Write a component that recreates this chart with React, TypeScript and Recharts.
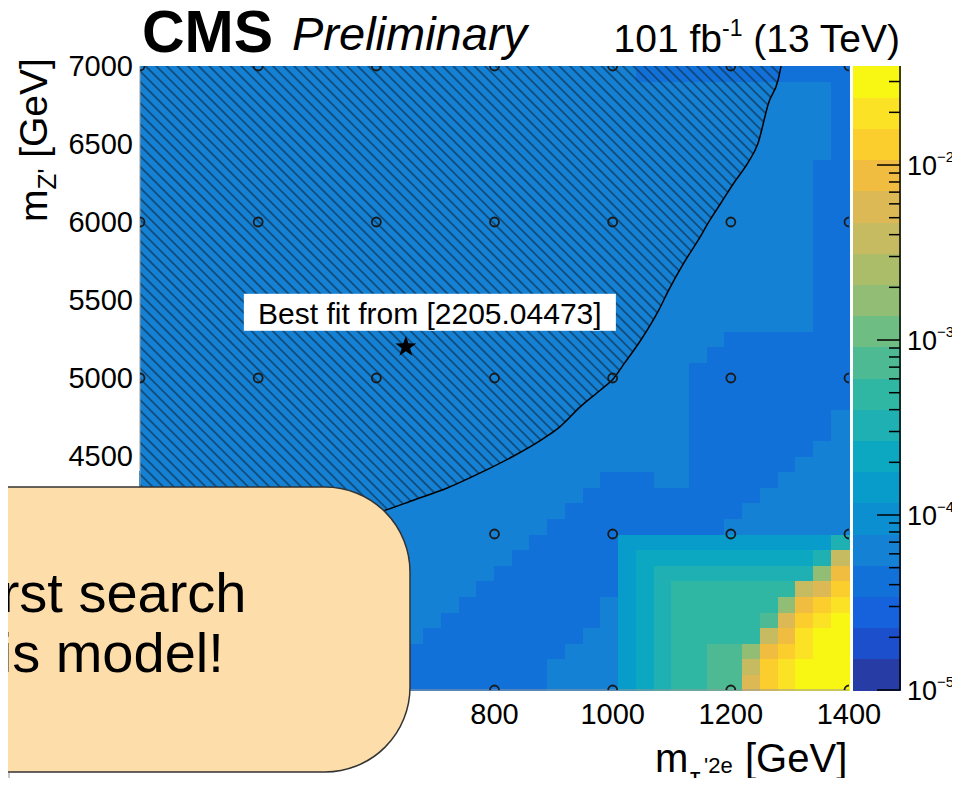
import React from "react";
import { ComposedChart, Area, Scatter, XAxis, YAxis, ReferenceArea } from "recharts";

const FONT = "'Liberation Sans', Arial, Helvetica, sans-serif";

// colour levels of the z axis (20 contours, lowest first)
const zColors = [
  "#283ca5", "#1c4fcb", "#1562dc", "#1271d9", "#1481d4",
  "#0b8fd0", "#089ccb", "#0ca8c2", "#1eb0b2", "#30b7a3",
  "#4dba93", "#6ebd82", "#91be74", "#acbd6a", "#c6bb60",
  "#ddb955", "#f0bd40", "#fcce2d", "#fbe224", "#f8f613",
];
const zMin = 1e-5;
const zMax = 0.0368;
const zMajorTicks = [1e-5, 1e-4, 1e-3, 1e-2];
const zTicks = [
  1e-5, 2e-5, 3e-5, 4e-5, 5e-5, 6e-5, 7e-5, 8e-5, 9e-5,
  1e-4, 2e-4, 3e-4, 4e-4, 5e-4, 6e-4, 7e-4, 8e-4, 9e-4,
  1e-3, 2e-3, 3e-3, 4e-3, 5e-3, 6e-3, 7e-3, 8e-3, 9e-3,
  1e-2, 2e-2, 3e-2,
];

const tauTicks = [200, 400, 600, 800, 1000, 1200, 1400];
const zpTicks = [3000, 3500, 4000, 4500, 5000, 5500, 6000, 6500, 7000];

// histogram binning: 30 GeV in m_tau', 100 GeV in m_Z'
const tauBinStart = 200;
const tauBinWidth = 30;
const zpBinStart = 3000;
const zpBinWidth = 100;

// one string per m_Z' row (lowest row first), one char per m_tau' bin = colour level
const heatRows = [
  "4444444444 4443333333 3334444678 99aafhijjj",
  "4444444444 4444333333 3334444678 99aaehijjj",
  "4444444444 4444433333 3333444678 99aacghijj",
  "4444444444 4444443333 3333344678 99999egijj",
  "4444444444 4444444333 3333334678 99999afhij",
  "4444444444 4444444433 3333334678 999999cghi",
  "4444444444 4444444443 3333333678 9999999efh",
  "4444444444 4444444444 3333333678 88888888cg",
  "4444444444 4444444444 4333333677 777777778e",
  "4444444444 4444444444 4433333666 6666666668",
  "4444444444 4444444444 4443333333 3334444444",
  "4444444444 4444444444 4444333333 3333444444",
  "4444444444 4444444444 4444433333 3333344444",
  "4444444444 4444444444 4444443334 4333334444",
  "4444444444 4444444444 4444444444 4333333444",
  "4444444444 4444444444 4444444444 4333333344",
  "4444444444 4444444444 4444444444 4333333334",
  "4444444444 4444444444 4444444444 4333333334",
  "4444444444 4444444444 4444444444 4333333333",
  "4444444444 4444444444 4444444444 4333333333",
  "4444444444 4444444444 4444444444 4333333333",
  "4444444444 4444444444 4444444444 4433333333",
  "4444444444 4444444444 4444444444 4443333333",
  "4444444444 4444444444 4444444444 4444444433",
  "4444444444 4444444444 4444444444 4444444433",
  "4444444444 4444444444 4444444444 4444444433",
  "4444444444 4444444444 4444444444 4444444433",
  "4444444444 4444444444 4444444444 4444444433",
  "4444444444 4444444444 4444444444 4444444433",
  "4444444444 4444444444 4444444444 4444444433",
  "4444444444 4444444444 4444444444 4444444433",
  "4444444444 4444444444 4444444444 4444444433",
  "4444444444 4444444444 4444444444 4444444433",
  "4444444444 4444444444 4444444444 4444444433",
  "4444444444 4444444444 4444444444 4444444443",
  "4444444444 4444444444 4444444444 4444444443",
  "4444444444 4444444444 4444444444 4444444443",
  "4444444444 4444444444 4444444444 4444444443",
  "4444444444 4444444444 4444444444 4444444443",
  "4444444444 4444444444 4444444433 3333333333",
].map((r) => r.replace(/ /g, ""));

const scanTau = [200, 400, 600, 800, 1000, 1200, 1400];
const scanZp = [3000, 4000, 5000, 6000, 7000];

const bestFit = [{ x: 650, y: 5200 }];

// edge of the excluded (hatched) region
const exclusionEdge = [
  { x: 200, y: 3940 }, { x: 300, y: 3970 }, { x: 450, y: 4040 }, { x: 605, y: 4140 },
  { x: 665, y: 4220 }, { x: 720, y: 4295 }, { x: 775, y: 4390 }, { x: 830, y: 4495 },
  { x: 880, y: 4605 }, { x: 910, y: 4685 }, { x: 945, y: 4815 }, { x: 980, y: 4925 },
  { x: 1000, y: 4990 }, { x: 1020, y: 5095 }, { x: 1048, y: 5245 }, { x: 1078, y: 5435 },
  { x: 1095, y: 5565 }, { x: 1120, y: 5735 }, { x: 1145, y: 5885 }, { x: 1165, y: 6015 },
  { x: 1183, y: 6120 }, { x: 1205, y: 6250 }, { x: 1229, y: 6380 }, { x: 1246, y: 6505 },
  { x: 1264, y: 6765 }, { x: 1280, y: 6910 }, { x: 1285, y: 7000 },
];

const levelChars = "0123456789abcdefghij";

const heatRuns: { x1: number; x2: number; y1: number; y2: number; color: string }[] = [];
heatRows.forEach((row, j) => {
  let start = 0;
  for (let i = 1; i <= row.length; i++) {
    if (i === row.length || row[i] !== row[start]) {
      heatRuns.push({
        x1: tauBinStart + start * tauBinWidth,
        x2: tauBinStart + i * tauBinWidth,
        y1: zpBinStart + j * zpBinWidth,
        y2: zpBinStart + (j + 1) * zpBinWidth,
        color: zColors[levelChars.indexOf(row[start])],
      });
      start = i;
    }
  }
});

const scanPoints = scanZp.flatMap((y) => scanTau.map((x) => ({ x, y })));

const zBands = zColors.map((color, k) => ({
  lo: zMin * Math.pow(zMax / zMin, k / zColors.length),
  hi: zMin * Math.pow(zMax / zMin, (k + 1) / zColors.length),
  color,
}));

const ScanPoint = (p: any) => (
  <circle cx={p.cx} cy={p.cy} r={4.5} fill="none" stroke="#1a1a1a" strokeWidth={1.8} />
);

const BestFitStar = (p: any) => {
  const pts: string[] = [];
  for (let k = 0; k < 10; k++) {
    const r = k % 2 === 0 ? 11 : 4.4;
    const a = -Math.PI / 2 + (k * Math.PI) / 5;
    pts.push(`${p.cx + r * Math.cos(a)},${p.cy + r * Math.sin(a)}`);
  }
  return (
    <g>
      <rect x={p.cx - 162} y={p.cy - 53} width={372} height={37} fill="#fff" />
      <text x={p.cx + 24} y={p.cy - 23} textAnchor="middle" fontSize={30} fontFamily={FONT} fill="#000">
        Best fit from [2205.04473]
      </text>
      <polygon points={pts.join(" ")} fill="#000" />
    </g>
  );
};

const ZTick = (p: any) => {
  const v = p.payload.value;
  const major = zMajorTicks.some((m) => Math.abs(m - v) / m < 1e-6);
  const exp = Math.round(Math.log10(v));
  return (
    <g>
      <line x1={p.x - (major ? 23 : 11)} x2={p.x} y1={p.y} y2={p.y} stroke="#000" strokeWidth={1.5} />
      {major && (
        <text x={p.x + 7} y={p.y + 10} fontSize={27} fontFamily={FONT} fill="#000">
          10
          <tspan fontSize={15} dy={-13}>{"\u2212" + Math.abs(exp)}</tspan>
        </text>
      )}
    </g>
  );
};

const tickStyle = { fontSize: 29, fill: "#000", fontFamily: FONT };

export default function App() {
  return (
    <div style={{ position: "relative", width: 960, height: 786, margin: -8, overflow: "hidden", background: "#fff" }}>
      <div style={{ position: "absolute", left: 0, top: 0 }}>
        <ComposedChart width={960} height={786} data={exclusionEdge} margin={{ top: 66, right: 111, bottom: 56, left: 60 }}>
          <defs>
            <pattern id="hatch" width="7.5" height="7.5" patternUnits="userSpaceOnUse" patternTransform="rotate(45)">
              <line x1="0" y1="3.75" x2="7.5" y2="3.75" stroke="#10304c" strokeWidth="1.2" />
            </pattern>
          </defs>
          <XAxis
            type="number"
            dataKey="x"
            domain={[200, 1400]}
            ticks={tauTicks}
            interval={0}
            allowDataOverflow
            height={40}
            tickSize={0}
            tickMargin={13}
            tickLine={false}
            axisLine={{ stroke: "#999" }}
            tick={tickStyle}
          />
          <XAxis xAxisId="top" orientation="top" type="number" domain={[200, 1400]} height={0} tick={false} tickLine={false} axisLine={{ stroke: "#999" }} />
          <YAxis
            type="number"
            dataKey="y"
            domain={[3000, 7000]}
            ticks={zpTicks}
            interval={0}
            allowDataOverflow
            width={80}
            tickSize={0}
            tickMargin={7}
            tickLine={false}
            axisLine={{ stroke: "#999" }}
            tick={tickStyle}
          />
          {heatRuns.map((r, k) => (
            <ReferenceArea
              key={k}
              x1={r.x1}
              x2={r.x2}
              y1={r.y1}
              y2={r.y2}
              fill={r.color}
              fillOpacity={1}
              stroke={r.color}
              strokeWidth={1}
              shapeRendering="crispEdges"
              ifOverflow="visible"
            />
          ))}
          <Area
            type="monotone"
            dataKey="y"
            baseValue={7000}
            fill="url(#hatch)"
            fillOpacity={1}
            stroke="#000"
            strokeWidth={1.5}
            dot={false}
            activeDot={false}
            isAnimationActive={false}
          />
          <Scatter data={scanPoints} shape={ScanPoint} isAnimationActive={false} />
          <Scatter data={bestFit} shape={BestFitStar} isAnimationActive={false} />
        </ComposedChart>
      </div>

      <div style={{ position: "absolute", left: 853, top: 0 }}>
        <ComposedChart width={107} height={786} data={zBands} margin={{ top: 66, right: 0, bottom: 96, left: 0 }}>
          <XAxis hide type="number" domain={[0, 1]} allowDataOverflow />
          <YAxis
            orientation="right"
            type="number"
            scale="log"
            domain={[zMin, zMax]}
            allowDataOverflow
            ticks={zTicks}
            interval={0}
            width={60}
            tickSize={0}
            tickMargin={0}
            tickLine={false}
            axisLine={{ stroke: "#000", strokeWidth: 1.5 }}
            tick={(p: any) => <ZTick {...p} />}
          />
          {zBands.map((b, k) => (
            <ReferenceArea
              key={k}
              y1={b.lo}
              y2={b.hi}
              fill={b.color}
              fillOpacity={1}
              stroke={b.color}
              strokeWidth={1}
              shapeRendering="crispEdges"
              ifOverflow="visible"
            />
          ))}
        </ComposedChart>
      </div>

      <svg width={960} height={786} style={{ position: "absolute", left: 0, top: 0, pointerEvents: "none" }} fontFamily={FONT}>
        <text x={142} y={52} fontSize={59} fontWeight="bold" fill="#000">CMS</text>
        <text x={292} y={50} fontSize={47} fontStyle="italic" fill="#000">Preliminary</text>
        <text x={900} y={52} fontSize={39} textAnchor="end" fill="#000">
          101 fb<tspan fontSize={23} dy={-16}>-1</tspan>
          <tspan dy={16}> (13 TeV)</tspan>
        </text>

        <text transform="translate(47, 222) rotate(-90)" fontSize={39} fill="#000">
          m<tspan fontSize={26} dy={9}>Z'</tspan>
          <tspan dy={-9}> [GeV]</tspan>
        </text>

        <text x={655} y={772} fontSize={40} fill="#000">
          m<tspan x={690} dy={14} fontSize={26}>τ</tspan>
          <tspan x={704} dy={-13} fontSize={22}>'2e</tspan>
          <tspan x={745} dy={-1}>[GeV]</tspan>
        </text>

        <rect x={-300} y={487} width={710} height={285} rx={85} ry={85} fill="#fddeaa" stroke="#333" strokeWidth={1.5} />
        <text x={-46} y={612} fontSize={56} fill="#000">First search</text>
        <text x={-47} y={672} fontSize={56} fill="#000">this model!</text>
        <rect x={0} y={773} width={10} height={13} fill="#c8c8c8" />
      </svg>
    </div>
  );
}
